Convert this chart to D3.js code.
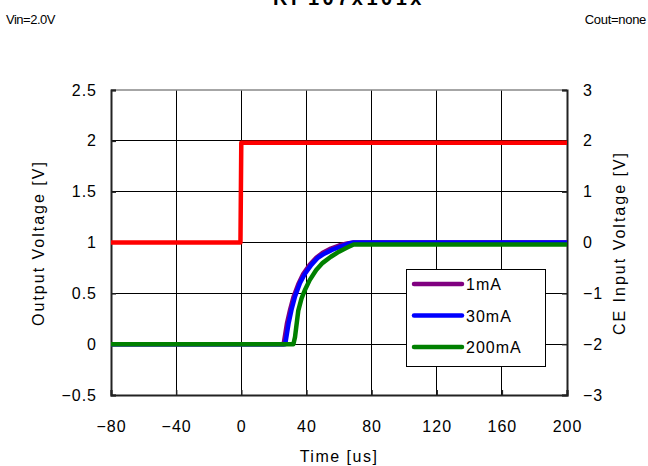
<!DOCTYPE html>
<html><head><meta charset="utf-8">
<script src="https://cdn.jsdelivr.net/npm/d3@7"></script>
<style>body{margin:0;background:#fff}svg{display:block}text{font-family:"Liberation Sans",Arial,sans-serif}</style>
</head><body>
<svg id="c" width="648" height="466"></svg>
<script>
const title = "RP107x101x";
const noteLeft = "Vin=2.0V";
const noteRight = "Cout=none";
const xTicks = [-80, -40, 0, 40, 80, 120, 160, 200];
const yLeftTicks = [-0.5, 0, 0.5, 1, 1.5, 2, 2.5];
const yRightTicks = [-3, -2, -1, 0, 1, 2, 3];
const seriesNames = ["1mA", "30mA", "200mA"];
const seriesColors = ["#800080", "#0000ff", "#008000"];
// output voltage traces (time us, volts)
const t1mA = [-80, 26, 27, 28, 30, 32, 35, 38, 42, 46, 50, 55, 60, 65, 69, 200];
const v1mA = [0, 0, 0.1, 0.2, 0.34, 0.46, 0.59, 0.69, 0.78, 0.85, 0.9, 0.94, 0.97, 0.99, 1.0, 1.0];
const t30mA = [-80, 27, 28, 29, 31, 33, 36, 39, 43, 47, 51, 56, 61, 66, 69, 200];
const v30mA = [0, 0, 0.1, 0.2, 0.35, 0.47, 0.6, 0.69, 0.78, 0.85, 0.89, 0.93, 0.96, 0.99, 1.0, 1.0];
const t200mA = [-80, 32, 33, 35, 37, 39, 42, 46, 50, 55, 60, 65, 69, 200];
const v200mA = [0, 0, 0.07, 0.33, 0.45, 0.53, 0.63, 0.73, 0.8, 0.86, 0.91, 0.95, 0.98, 0.98];
// CE input voltage (right axis)
const tCE = [-80, -0.5, 0, 200];
const vCE = [0, 0, 1.96, 1.96];

const svg = d3.select("#c");
const L = 111, R = 567, T = 90, B = 395;
const x = d3.scaleLinear().domain([-80, 200]).range([L, R]);
const yL = d3.scaleLinear().domain([-0.5, 2.5]).range([B, T]);
const yR = d3.scaleLinear().domain([-3, 3]).range([B, T]);

// grid
const g = svg.append("g");
g.selectAll(".vg").data(xTicks.slice(1, -1)).enter().append("line")
  .attr("x1", d => x(d)).attr("x2", d => x(d)).attr("y1", T).attr("y2", B)
  .attr("stroke", "#000").attr("stroke-width", 1).attr("shape-rendering", "crispEdges");
g.selectAll(".hg").data(yLeftTicks.slice(1, -1)).enter().append("line")
  .attr("x1", L).attr("x2", R).attr("y1", d => yL(d)).attr("y2", d => yL(d))
  .attr("stroke", "#000").attr("stroke-width", 1).attr("shape-rendering", "crispEdges");
// top border
svg.append("line").attr("x1", L).attr("x2", R).attr("y1", T).attr("y2", T)
  .attr("stroke", "#888").attr("stroke-width", 1.5);

// axes
const fmt = d => d3.format("")(d).replace("-", "\u2212");
const axL = svg.append("g").attr("transform", `translate(${L},0)`)
  .call(d3.axisLeft(yL).tickValues(yLeftTicks).tickSize(-5).tickPadding(14).tickFormat(fmt));
const axR = svg.append("g").attr("transform", `translate(${R},0)`)
  .call(d3.axisRight(yR).tickValues(yRightTicks).tickSize(-5).tickPadding(16).tickFormat(fmt));
const axB = svg.append("g").attr("transform", `translate(0,${B})`)
  .call(d3.axisBottom(x).tickValues(xTicks).tickSize(-5).tickPadding(26).tickFormat(fmt));
[axL, axR, axB].forEach(a => {
  a.select(".domain").attr("stroke", "#222").attr("stroke-width", 2);
  a.selectAll(".tick line").attr("stroke", "#222").attr("stroke-width", 1.5);
  a.selectAll("text").attr("font-size", 16).attr("fill", "#000")
    .style("font-family", "'Liberation Sans', Arial, sans-serif").attr("letter-spacing", 1);
});

// lines
const traces = [
  [t1mA, v1mA], [t30mA, v30mA], [t200mA, v200mA]
];
svg.append("path").datum(d3.zip(tCE, vCE))
  .attr("d", d3.line().x(d => x(d[0])).y(d => yR(d[1])))
  .attr("fill", "none").attr("stroke", "#ff0000").attr("stroke-width", 4.5)
  .attr("stroke-linejoin", "round");
traces.forEach((tr, i) => {
  svg.append("path").datum(d3.zip(tr[0], tr[1]))
    .attr("d", d3.line().x(d => x(d[0])).y(d => yL(d[1])))
    .attr("fill", "none").attr("stroke", seriesColors[i]).attr("stroke-width", 4.5)
    .attr("stroke-linejoin", "round");
});

// legend
const lg = svg.append("g");
lg.append("rect").attr("x", 406.5).attr("y", 269.5).attr("width", 139).attr("height", 97)
  .attr("fill", "#fff").attr("stroke", "#000").attr("stroke-width", 1);
seriesNames.forEach((n, i) => {
  const yy = 284 + i * 31.5;
  lg.append("line").attr("x1", 414).attr("x2", 462).attr("y1", yy).attr("y2", yy)
    .attr("stroke", seriesColors[i]).attr("stroke-width", 4.5).attr("stroke-linecap", "round");
  lg.append("text").attr("x", 466).attr("y", yy + 6).attr("font-size", 16)
    .attr("letter-spacing", 1).text(n);
});

// titles
svg.append("text").attr("x", 349).attr("y", 5).attr("text-anchor", "middle")
  .attr("font-size", 20).attr("font-weight", "bold").attr("letter-spacing", 3.5).text(title);
svg.append("text").attr("x", 6).attr("y", 24).attr("font-size", 13).attr("letter-spacing", -0.5).text(noteLeft);
svg.append("text").attr("x", 646).attr("y", 24).attr("text-anchor", "end").attr("font-size", 13)
  .attr("letter-spacing", -0.3).text(noteRight);
svg.append("text").attr("x", 339).attr("y", 462).attr("text-anchor", "middle")
  .attr("font-size", 16).attr("letter-spacing", 1.5).text("Time [us]");
svg.append("text").attr("transform", "translate(44,243) rotate(-90)").attr("text-anchor", "middle")
  .attr("font-size", 16).attr("letter-spacing", 2).text("Output Voltage [V]");
svg.append("text").attr("transform", "translate(625,243) rotate(-90)").attr("text-anchor", "middle")
  .attr("font-size", 16).attr("letter-spacing", 2).text("CE Input Voltage [V]");
</script>
</body></html>
